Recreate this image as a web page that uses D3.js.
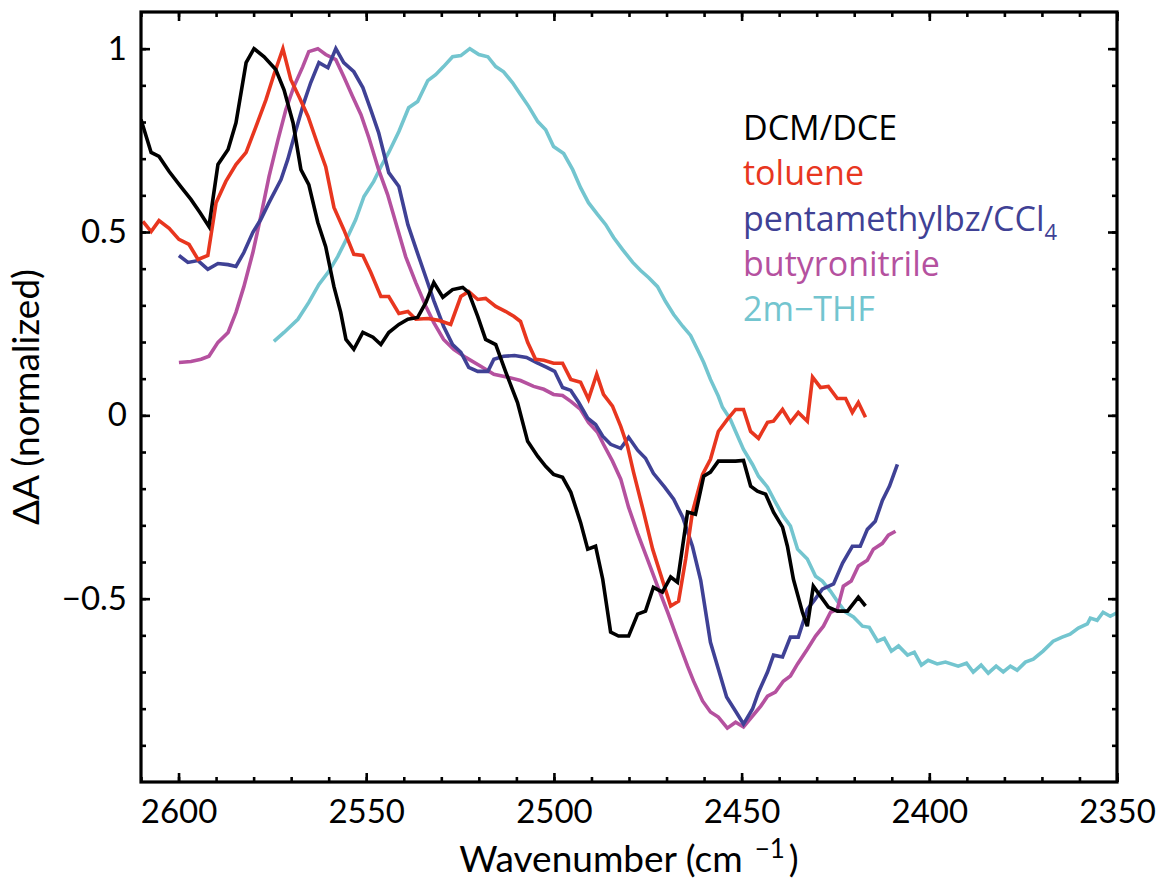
<!DOCTYPE html>
<html>
<head>
<meta charset="utf-8">
<script src="https://cdn.jsdelivr.net/npm/d3@7"></script>
<style>
  html, body { margin: 0; padding: 0; background: #ffffff; }
  svg { display: block; }
</style>
</head>
<body>
<svg id="chart" width="1157" height="882"></svg>
<script>
// ---------------- DATA ----------------
const dcmWn = [2610,2607.3,2605.2,2602.5,2599.4,2596.7,2594.3,2591.9,2589.5,2586.8,2584.7,2582.0,2579.9,2577.2,2574.1,2571.9,2569.5,2567.4,2565.3,2562.9,2560.8,2558.6,2556.8,2555.4,2553.3,2550.9,2548.2,2546.1,2544.0,2541.3,2538.9,2536.3,2534.1,2532.0,2529.6,2527.0,2524.3,2522.7,2520.3,2518.2,2515.5,2512.8,2509.7,2507.0,2504.3,2502.2,2500.1,2497.7,2495.5,2492.9,2491.0,2488.9,2487.0,2484.9,2482.8,2480.1,2477.7,2475.6,2473.5,2471.1,2468.9,2467.1,2464.4,2462.3,2460.1,2458.3,2456.2,2451.6,2449.5,2447.6,2445.8,2443.6,2441.5,2439.1,2437.8,2436.2,2433.8,2432.5,2430.9,2429.0,2426.9,2424.5,2421.8,2418.9,2417.0];
const dcmDA = [0.807,0.717,0.706,0.665,0.624,0.589,0.553,0.515,0.684,0.725,0.798,0.962,1.0,0.978,0.943,0.888,0.798,0.670,0.629,0.526,0.460,0.351,0.281,0.207,0.180,0.226,0.213,0.193,0.226,0.248,0.262,0.267,0.308,0.362,0.322,0.343,0.349,0.335,0.270,0.207,0.193,0.117,0.035,-0.071,-0.112,-0.139,-0.161,-0.169,-0.210,-0.292,-0.365,-0.357,-0.447,-0.591,-0.602,-0.602,-0.542,-0.534,-0.469,-0.482,-0.441,-0.455,-0.264,-0.270,-0.166,-0.155,-0.125,-0.125,-0.123,-0.193,-0.207,-0.215,-0.264,-0.305,-0.357,-0.447,-0.537,-0.575,-0.466,-0.493,-0.523,-0.534,-0.534,-0.496,-0.520];

const tolWn = [2609.5,2607.3,2605.2,2602.5,2599.9,2597.2,2594.8,2592.2,2590.0,2587.4,2584.7,2582.0,2579.4,2576.7,2574.6,2572.2,2570.1,2567.9,2565.5,2562.9,2560.8,2558.6,2556.0,2553.3,2550.9,2548.8,2546.1,2544.0,2541.3,2538.9,2536.8,2533.6,2530.7,2527.5,2524.8,2522.7,2520.3,2518.2,2515.5,2512.8,2510.7,2508.9,2507.0,2504.9,2502.7,2500.1,2497.7,2495.5,2492.9,2490.8,2488.6,2486.8,2484.4,2482.2,2480.4,2478.8,2476.1,2473.7,2471.6,2468.9,2466.8,2464.9,2463.1,2460.4,2458.3,2456.2,2453.8,2451.6,2449.5,2447.6,2445.5,2443.1,2441.5,2439.1,2437.0,2434.9,2432.5,2431.1,2429.0,2426.9,2424.5,2422.3,2420.5,2418.9,2417.0];
const tolDA = [0.529,0.501,0.531,0.510,0.480,0.466,0.425,0.436,0.580,0.638,0.684,0.717,0.787,0.861,0.929,1.0,0.916,0.869,0.815,0.738,0.678,0.567,0.507,0.439,0.436,0.390,0.324,0.324,0.278,0.283,0.262,0.264,0.259,0.248,0.324,0.338,0.316,0.319,0.297,0.283,0.270,0.256,0.199,0.153,0.150,0.142,0.142,0.098,0.090,0.044,0.112,0.057,0.025,-0.030,-0.084,-0.155,-0.264,-0.365,-0.433,-0.520,-0.507,-0.392,-0.264,-0.161,-0.120,-0.044,-0.011,0.016,0.016,-0.044,-0.063,-0.019,-0.016,0.016,-0.019,0.008,-0.016,0.104,0.076,0.079,0.046,0.046,0.008,0.035,-0.005];

const pmbWn = [2599.9,2597.5,2594.8,2592.2,2589.5,2586.8,2584.7,2582.6,2580.2,2578.1,2575.9,2572.7,2570.9,2568.7,2566.6,2564.8,2562.6,2560.2,2558.1,2556.0,2553.3,2550.9,2548.8,2546.7,2544.0,2541.3,2538.9,2536.5,2534.1,2532.0,2529.4,2527.0,2524.8,2522.7,2520.3,2517.6,2516.0,2513.4,2510.5,2507.3,2504.6,2501.9,2499.8,2497.7,2495.5,2493.4,2491.0,2488.9,2487.0,2484.9,2482.2,2480.1,2477.7,2475.6,2473.5,2470.5,2468.1,2465.7,2463.1,2460.9,2458.3,2456.2,2454.0,2451.6,2449.5,2447.1,2445.5,2443.1,2441.5,2439.1,2437.0,2434.9,2432.5,2430.6,2428.5,2425.5,2423.1,2420.5,2418.4,2416.5,2414.4,2412.5,2410.6,2408.5];
const pmbDA = [0.436,0.417,0.422,0.398,0.414,0.411,0.406,0.444,0.499,0.534,0.580,0.643,0.698,0.779,0.853,0.907,0.962,0.948,1.0,0.962,0.937,0.894,0.834,0.771,0.662,0.624,0.520,0.447,0.376,0.313,0.243,0.193,0.172,0.131,0.120,0.120,0.153,0.161,0.163,0.158,0.144,0.131,0.120,0.076,0.068,0.035,-0.008,-0.025,-0.057,-0.079,-0.090,-0.060,-0.095,-0.117,-0.158,-0.196,-0.229,-0.278,-0.357,-0.450,-0.619,-0.692,-0.768,-0.807,-0.842,-0.801,-0.755,-0.700,-0.654,-0.659,-0.605,-0.605,-0.529,-0.504,-0.474,-0.460,-0.403,-0.357,-0.357,-0.311,-0.289,-0.232,-0.193,-0.134];

const butWn = [2599.9,2596.7,2594.0,2591.9,2589.5,2586.8,2584.7,2582.6,2580.2,2578.1,2575.9,2573.5,2571.4,2569.3,2566.9,2565.3,2562.9,2560.8,2558.1,2556.0,2553.6,2551.4,2549.3,2546.7,2544.3,2541.6,2539.5,2536.8,2534.1,2532.0,2529.4,2526.7,2523.5,2519.5,2516.0,2512.3,2508.9,2505.4,2502.7,2500.1,2497.7,2495.5,2492.9,2490.8,2488.4,2486.8,2484.4,2482.2,2480.1,2477.7,2475.1,2472.4,2469.7,2467.1,2464.4,2462.8,2460.4,2458.3,2456.2,2453.8,2451.6,2449.5,2447.1,2444.9,2443.1,2441.0,2438.9,2437.0,2435.1,2432.5,2430.3,2428.2,2426.3,2424.5,2422.9,2420.8,2418.9,2416.5,2414.9,2412.5,2410.9,2409.0];
const butDA = [0.144,0.147,0.153,0.161,0.199,0.226,0.281,0.351,0.444,0.542,0.651,0.752,0.834,0.896,0.951,0.992,1.0,0.984,0.970,0.924,0.869,0.820,0.757,0.670,0.602,0.507,0.433,0.362,0.297,0.253,0.207,0.180,0.158,0.134,0.112,0.104,0.095,0.079,0.071,0.057,0.054,0.038,0.016,-0.019,-0.046,-0.079,-0.125,-0.174,-0.251,-0.322,-0.392,-0.466,-0.537,-0.610,-0.684,-0.725,-0.779,-0.809,-0.823,-0.853,-0.837,-0.850,-0.820,-0.793,-0.766,-0.755,-0.725,-0.711,-0.678,-0.638,-0.602,-0.575,-0.537,-0.529,-0.466,-0.452,-0.411,-0.395,-0.365,-0.349,-0.327,-0.316];

const thfWn = [2574.6,2571.9,2568.2,2565.3,2562.6,2560.0,2557.6,2554.9,2552.8,2550.6,2548.0,2546.1,2544.0,2541.3,2538.7,2536.3,2533.6,2531.5,2529.4,2527.0,2524.8,2522.4,2520.0,2517.6,2515.5,2513.4,2511.0,2508.9,2506.7,2504.3,2502.2,2500.1,2497.4,2495.0,2492.9,2490.8,2488.4,2486.2,2484.1,2481.7,2479.0,2476.9,2474.8,2472.4,2470.3,2468.1,2465.7,2463.6,2461.5,2460.1,2458.3,2456.2,2455.1,2453.0,2451.6,2449.5,2447.1,2445.5,2443.1,2441.0,2438.9,2437.0,2435.1,2432.5,2430.3,2428.5,2426.3,2424.5,2422.3,2420.2,2417.8,2416.0,2413.8,2412.0,2410.1,2408.2,2405.8,2404.0,2402.1,2400.3,2397.9,2395.7,2392.3,2390.1,2388.3,2386.2,2384.3,2382.2,2380.3,2378.4,2376.6,2374.4,2372.3,2369.7,2367.0,2364.6,2362.5,2360.3,2357.9,2357.1,2355.3,2353.7,2351.8,2349.7];
const thfDA = [0.202,0.226,0.262,0.308,0.357,0.392,0.433,0.488,0.534,0.597,0.638,0.678,0.717,0.774,0.839,0.856,0.913,0.929,0.951,0.978,0.981,1.0,0.984,0.978,0.951,0.937,0.907,0.875,0.842,0.801,0.779,0.733,0.714,0.670,0.621,0.580,0.548,0.520,0.485,0.452,0.417,0.395,0.376,0.351,0.311,0.275,0.243,0.218,0.174,0.144,0.098,0.052,0.022,-0.011,-0.044,-0.093,-0.134,-0.166,-0.196,-0.237,-0.275,-0.302,-0.365,-0.392,-0.439,-0.452,-0.480,-0.507,-0.537,-0.550,-0.575,-0.578,-0.616,-0.608,-0.643,-0.629,-0.654,-0.646,-0.681,-0.668,-0.678,-0.673,-0.684,-0.676,-0.700,-0.681,-0.703,-0.684,-0.700,-0.684,-0.695,-0.673,-0.665,-0.643,-0.616,-0.605,-0.597,-0.580,-0.569,-0.553,-0.559,-0.537,-0.548,-0.537];

const seriesNames  = ["DCM/DCE", "toluene", "pentamethylbz/CCl", "butyronitrile", "2m\u2212THF"];
const seriesColors = ["#000000", "#e8361f", "#3f4195", "#b5519f", "#73c5cf"];
const xTickValues = [2600, 2550, 2500, 2450, 2400, 2350];
const yTickValues = [-0.5, 0, 0.5, 1];
const yTickLabels = ["\u22120.5", "0", "0.5", "1"];

// ---------------- LAYOUT ----------------
const svg = d3.select("#chart");
const L = 141, R = 1117, T = 12, B = 782;
const x = d3.scaleLinear().domain([2610, 2350]).range([L, R]);
const y = d3.scaleLinear().domain([-1.0, 1.1]).range([B, T]);

const axisFont = "Lato, 'Open Sans', sans-serif";

svg.append("defs").append("clipPath").attr("id", "plotclip")
  .append("rect").attr("x", L).attr("y", T).attr("width", R - L).attr("height", B - T);

const allSeries = [
  {wn: dcmWn, da: dcmDA}, {wn: tolWn, da: tolDA}, {wn: pmbWn, da: pmbDA},
  {wn: butWn, da: butDA}, {wn: thfWn, da: thfDA}
];
const line = d3.line().x(d => x(d[0])).y(d => y(d[1]));
const plot = svg.append("g").attr("clip-path", "url(#plotclip)");
[4, 3, 2, 1, 0].forEach(i => {
  const s = allSeries[i];
  plot.append("path")
    .datum(s.wn.map((w, k) => [w, s.da[k]]))
    .attr("d", line)
    .attr("fill", "none")
    .attr("stroke", seriesColors[i])
    .attr("stroke-width", 3.6)
    .attr("stroke-linejoin", "miter")
    .attr("stroke-linecap", "butt");
});

const minorX = d3.range(261, 234, -1).map(v => v * 10);
const minorY = d3.range(-9, 11).map(v => v / 10);

function styleAxis(g) {
  g.select(".domain").remove();
  g.selectAll(".tick line").attr("stroke", "#000").attr("stroke-width", 2.6);
}

// bottom
svg.append("g").attr("transform", `translate(0,${B})`)
  .call(d3.axisBottom(x).tickValues(minorX).tickSize(-5).tickFormat(""))
  .call(styleAxis);
const gb = svg.append("g").attr("transform", `translate(0,${B})`)
  .call(d3.axisBottom(x).tickValues(xTickValues).tickSize(-9).tickPadding(18).tickFormat(d3.format("d")))
  .call(styleAxis);
gb.selectAll("text").attr("font-family", axisFont).attr("font-size", 33).attr("fill", "#000");

// top
svg.append("g").attr("transform", `translate(0,${T})`)
  .call(d3.axisTop(x).tickValues(minorX).tickSize(-5).tickFormat(""))
  .call(styleAxis);
svg.append("g").attr("transform", `translate(0,${T})`)
  .call(d3.axisTop(x).tickValues(xTickValues).tickSize(-9).tickFormat(""))
  .call(styleAxis);

// left
svg.append("g").attr("transform", `translate(${L},0)`)
  .call(d3.axisLeft(y).tickValues(minorY).tickSize(-5).tickFormat(""))
  .call(styleAxis);
const gl = svg.append("g").attr("transform", `translate(${L},0)`)
  .call(d3.axisLeft(y).tickValues(yTickValues).tickSize(-9).tickPadding(14)
    .tickFormat((d, i) => yTickLabels[i]))
  .call(styleAxis);
gl.selectAll("text").attr("font-family", axisFont).attr("font-size", 33).attr("fill", "#000");

// right
svg.append("g").attr("transform", `translate(${R},0)`)
  .call(d3.axisRight(y).tickValues(minorY).tickSize(-5).tickFormat(""))
  .call(styleAxis);
svg.append("g").attr("transform", `translate(${R},0)`)
  .call(d3.axisRight(y).tickValues(yTickValues).tickSize(-9).tickFormat(""))
  .call(styleAxis);

// frame
svg.append("rect").attr("x", L).attr("y", T).attr("width", R - L).attr("height", B - T)
  .attr("fill", "none").attr("stroke", "#000").attr("stroke-width", 3.2);

// axis titles
const xt = svg.append("text")
  .attr("font-family", axisFont).attr("font-size", 37).attr("fill", "#000")
  .attr("text-anchor", "middle")
  .attr("x", (L + R) / 2).attr("y", 872);
xt.append("tspan").text("Wavenumber (cm");
xt.append("tspan").attr("dy", -14).attr("dx", 12).attr("font-size", 26).text("\u22121");
xt.append("tspan").attr("dy", 14).attr("dx", 4).text(")");

svg.append("text")
  .attr("font-family", axisFont).attr("font-size", 37).attr("fill", "#000")
  .attr("text-anchor", "middle")
  .attr("transform", `translate(39,${(T + B) / 2}) rotate(-90)`)
  .text("\u0394A (normalized)");

// legend
const legend = svg.append("g").attr("font-family", "'Open Sans', Lato, sans-serif").attr("font-size", 34);
seriesNames.forEach((name, i) => {
  const t = legend.append("text")
    .attr("x", 743).attr("y", 140 + i * 45.3)
    .attr("fill", seriesColors[i]);
  t.append("tspan").text(name);
  if (i === 2) {
    t.append("tspan").attr("font-size", 22).attr("dy", 9).text("4");
  }
});
</script>
</body>
</html>
